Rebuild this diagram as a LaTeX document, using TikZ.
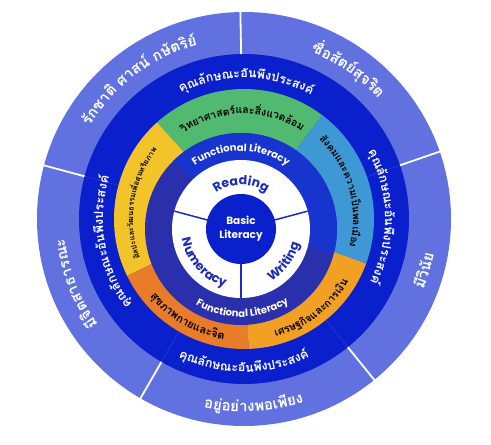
\documentclass[tikz,border=0pt]{standalone}
\usepackage{fontspec}
\usepackage{xcolor}
\usetikzlibrary{calc}
\newfontfamily\thaifont[Script=Thai]{Loma}
\newfontfamily\enfont{Poppins}
\definecolor{ringLight}{RGB}{97,114,224}
\definecolor{ringDark}{RGB}{10,32,204}
\definecolor{funcBlue}{RGB}{24,52,206}
\definecolor{funcIndigo}{RGB}{42,48,172}
\definecolor{inkBlue}{RGB}{26,44,185}
\definecolor{segGreen}{RGB}{82,186,112}
\definecolor{segSky}{RGB}{62,152,212}
\definecolor{segAmber}{RGB}{242,160,36}
\definecolor{segOrange}{RGB}{232,124,40}
\definecolor{segYellow}{RGB}{242,196,42}

\newcommand\valuefont{\thaifont\bfseries\fontsize{15}{15}\selectfont\color{white}}
\newcommand\qualityfont{\thaifont\bfseries\fontsize{12.5}{12.5}\selectfont\color{white}}
\newcommand\strandfont[1]{\thaifont\bfseries\fontsize{#1}{#1}\selectfont\color{black}}
\newcommand\literacyfont{\enfont\bfseries\fontsize{10}{10}\selectfont\color{white}}
\newcommand\skillfont{\enfont\bfseries\fontsize{12.5}{12.5}\selectfont\color{inkBlue}}

% text set cluster by cluster along a circle
% #1 name, #2 centre, #3 baseline radius, #4 middle angle, #5 1 clockwise / -1 anticlockwise, #6 font, #7 clusters
\newsavebox\clusterbox
\newdimen\arclen
\newdimen\clusterwd
\def\gapmark{~}
\newcommand\measurecluster[1]{%
  \pgfinterruptpicture\sbox\clusterbox{#1}\global\clusterwd=\wd\clusterbox\endpgfinterruptpicture}
\newcommand\ringtext[7]{%
  \global\arclen=0pt
  \foreach \cl in {#7}{%
    \measurecluster{#6\cl}%
    \global\advance\arclen by \clusterwd}%
  \pgfmathsetmacro\arcpos{#4+(#5)*\arclen/2/#3*57.2958}%
  \xdef\arcpos{\arcpos}%
  \foreach \cl [count=\k] in {#7}{%
    \measurecluster{#6\cl}%
    \pgfmathsetmacro\arcmid{\arcpos-(#5)*\clusterwd/2/#3*57.2958}%
    \pgfmathsetmacro\arcrot{\arcmid-(#5)*90}%
    \ifx\cl\gapmark\else
      \node[anchor=base, rotate=\arcrot, inner sep=0pt] (#1-\k) at ($(#2)+(\arcmid:#3pt)$) {#6\cl};
    \fi
    \pgfmathsetmacro\arcnew{\arcpos-(#5)*\clusterwd/#3*57.2958}%
    \xdef\arcpos{\arcnew}}%
}

\begin{document}
\begin{tikzpicture}[x=1pt, y=1pt]
  \useasboundingbox (0,0) rectangle (491,445);
  \coordinate (outer) at (244,226);
  \coordinate (inner) at (241,216);

  % rings
  \fill[ringLight] (outer) circle[radius=207pt];
  \fill[ringDark] (outer) circle[radius=165pt];
  \foreach \a/\b/\col in {53/132/segGreen, 132/206/segYellow, 206/272/segOrange, 272/340/segAmber, 340/413/segSky}
    \fill[\col] (outer) -- ($(outer)+(\a:130pt)$) arc[start angle=\a, end angle=\b, radius=130pt] -- cycle;
  \fill[funcIndigo] (inner) circle[radius=96pt];
  \fill[funcBlue] (inner) -- ($(inner)+(-15:96pt)$) arc[start angle=-15, end angle=135, radius=96pt] -- cycle;
  \fill[white] (inner) circle[radius=69pt];
  \foreach \a in {15,165,270}
    \draw[inkBlue, line width=1.5pt] ($(inner)+(\a:34pt)$) -- ($(inner)+(\a:69pt)$);
  \fill[ringDark] (inner) circle[radius=35pt];

  % separators
  \foreach \a in {19,91,165,240,309}
    \draw[white, line width=1.8pt] ($(outer)+(\a:165pt)$) -- ($(outer)+(\a:208pt)$);
  \foreach \a in {19,165,240,309}
    \draw[ringLight!40!ringDark, line width=0.5pt] ($(outer)+(\a:130pt)$) -- ($(outer)+(\a:165pt)$);

  \node[font=\enfont\bfseries\fontsize{10.5}{14}\selectfont, text=white, align=center] (basic) at (inner) {Basic\\Literacy};

  % outer values
  \ringtext{nation}{outer}{180}{127}{1}{\valuefont}{รั,ก,ชา,ติ,~,ศา,ส,น์,~,ก,ษั,ต,ริ,ย์}
  \ringtext{honest}{outer}{180}{55}{1}{\valuefont}{ซื่,อ,สั,ต,ย์,สุ,จ,ริ,ต}
  \ringtext{discipline}{outer}{193}{-16}{-1}{\valuefont}{มี,วิ,นั,ย}
  \ringtext{sufficient}{outer}{193}{273}{-1}{\valuefont}{อ,ยู่,อ,ย่า,ง,พ,อ,เพี,ย,ง}
  \ringtext{public}{outer}{180}{201}{1}{\valuefont}{มี,จิ,ต,สา,ธา,ร,ณะ}

  % desirable qualities
  \ringtext{qualTop}{outer}{141}{89}{1}{\qualityfont}{คุ,ณ,ลั,ก,ษ,ณะ,อั,น,พึ,ง,ป,ระ,ส,ง,ค์}
  \ringtext{qualRight}{outer}{141}{1}{1}{\qualityfont}{คุ,ณ,ลั,ก,ษ,ณะ,อั,น,พึ,ง,ป,ระ,ส,ง,ค์}
  \ringtext{qualBottom}{outer}{153}{270}{-1}{\qualityfont}{คุ,ณ,ลั,ก,ษ,ณะ,อั,น,พึ,ง,ป,ระ,ส,ง,ค์}
  \ringtext{qualLeft}{outer}{141}{190}{1}{\qualityfont}{คุ,ณ,ลั,ก,ษ,ณะ,อั,น,พึ,ง,ป,ระ,ส,ง,ค์}

  % strands
  \ringtext{science}{outer}{105}{91}{1}{\strandfont{10.5}}{วิ,ท,ยา,ศา,ส,ต,ร์,และ,สิ่,ง,แว,ด,ล้,อ,ม}
  \ringtext{society}{outer}{109}{16}{1}{\strandfont{10}}{สั,ง,ค,ม,และ,ค,วา,ม,เป็,น,พ,ล,เมื,อ,ง}
  \ringtext{economy}{outer}{122}{-53}{-1}{\strandfont{10.5}}{เศ,ร,ษ,ฐ,กิ,จ,และ,กา,ร,เงิ,น}
  \ringtext{health}{outer}{122}{240}{-1}{\strandfont{11}}{สุ,ข,ภา,พ,กา,ย,และ,จิ,ต}
  \ringtext{arts}{outer}{111}{171}{1}{\strandfont{7.5}}{ศิ,ล,ปะ,และ,วั,ฒ,น,ธ,ร,ร,ม,เพื่,อ,สุ,น,ท,รี,ย,ภา,พ}

  % functional literacy
  \ringtext{funcTop}{inner}{78}{90}{1}{\literacyfont}{F,u,n,c,t,i,o,n,a,l,~,L,i,t,e,r,a,c,y}
  \ringtext{funcBottom}{inner}{88}{271}{-1}{\literacyfont}{F,u,n,c,t,i,o,n,a,l,~,L,i,t,e,r,a,c,y}

  % basic skills
  \ringtext{reading}{inner}{44}{90}{1}{\skillfont}{R,e,a,d,i,n,g}
  \ringtext{numeracy}{inner}{60}{222}{-1}{\skillfont}{N,u,m,e,r,a,c,y}
  \ringtext{writing}{inner}{60}{-37}{-1}{\skillfont}{W,r,i,t,i,n,g}
\end{tikzpicture}
\end{document}
